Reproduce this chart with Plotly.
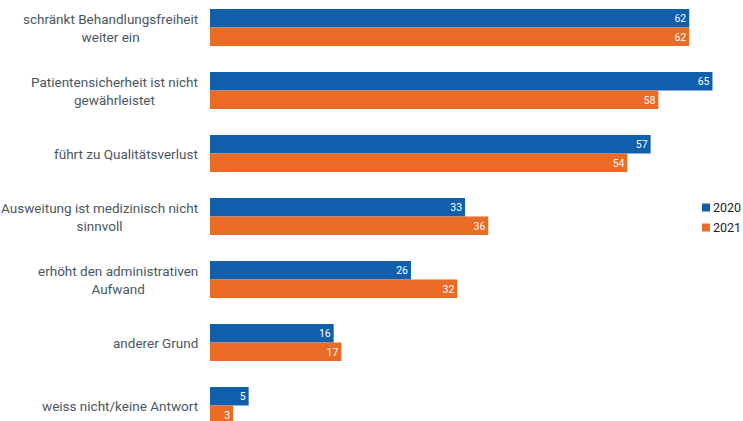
import plotly.graph_objects as go

categories = [
    "schränkt Behandlungsfreiheit<br>weiter ein",
    "Patientensicherheit ist nicht<br>gewährleistet",
    "führt zu Qualitätsverlust",
    "Ausweitung ist medizinisch nicht<br>sinnvoll",
    "erhöht den administrativen<br>Aufwand",
    "anderer Grund",
    "weiss nicht/keine Antwort",
]
values_2020 = [62, 65, 57, 33, 26, 16, 5]
values_2021 = [62, 58, 54, 36, 32, 17, 3]
series_names = ["2020", "2021"]

BLUE = "#0f5fad"
ORANGE = "#e96b26"
LABEL_COLOR = "#4a5763"
FONT = "Roboto, 'Noto Sans', sans-serif"

W, H = 743, 421
series = [
    (series_names[0], values_2020, BLUE),
    (series_names[1], values_2021, ORANGE),
]

fig = go.Figure()
for name, vals, color in series:
    fig.add_trace(go.Bar(
        name=name,
        y=list(range(len(categories))),
        x=vals,
        orientation="h",
        marker=dict(color=color, line=dict(width=0)),
        text=[str(v) for v in vals],
        textposition="inside",
        insidetextanchor="end",
        textangle=0,
        textfont=dict(color="white", size=12.5, family=FONT),
        cliponaxis=False,
        hoverinfo="x+name",
        showlegend=False,
    ))

# category labels as centred multi-line annotations left of the bars
for i, cat in enumerate(categories):
    fig.add_annotation(
        x=0, xref="paper", xanchor="right",
        xshift=-10,
        y=i, yref="y", yanchor="middle",
        text=cat, showarrow=False, align="center",
        font=dict(size=13.5, color=LABEL_COLOR, family=FONT),
    )

# compact legend on the right: small square swatch + year label
legend_x_px, legend_y_px, legend_step = 706, 207.5, 20
for k, (name, _, color) in enumerate(series):
    cy = legend_y_px + k * legend_step
    fig.add_shape(
        type="rect", xref="paper", yref="paper",
        x0=(legend_x_px - 4 - 210) / (W - 210), x1=(legend_x_px + 4 - 210) / (W - 210),
        y0=1 - (cy + 4) / H, y1=1 - (cy - 4) / H,
        fillcolor=color, line=dict(width=0),
    )
    fig.add_annotation(
        x=1, xref="paper", xanchor="right",
        y=1 - cy / H, yref="paper", yanchor="middle",
        text=name, showarrow=False,
        font=dict(size=12.5, color="#1e1e1e", family=FONT),
    )

fig.update_layout(
    width=W, height=H,
    margin=dict(l=210, r=0, t=0, b=0, autoexpand=False),
    paper_bgcolor="white", plot_bgcolor="white",
    barmode="group", bargap=0.41, bargroupgap=0,
    xaxis=dict(range=[0, 533 / 7.73], visible=False, fixedrange=True),
    yaxis=dict(range=[6.246, -0.4365], visible=False, fixedrange=True),
    showlegend=False,
    font=dict(family=FONT),
    uniformtext=dict(minsize=8, mode="show"),
)

fig.write_html("out.html")
